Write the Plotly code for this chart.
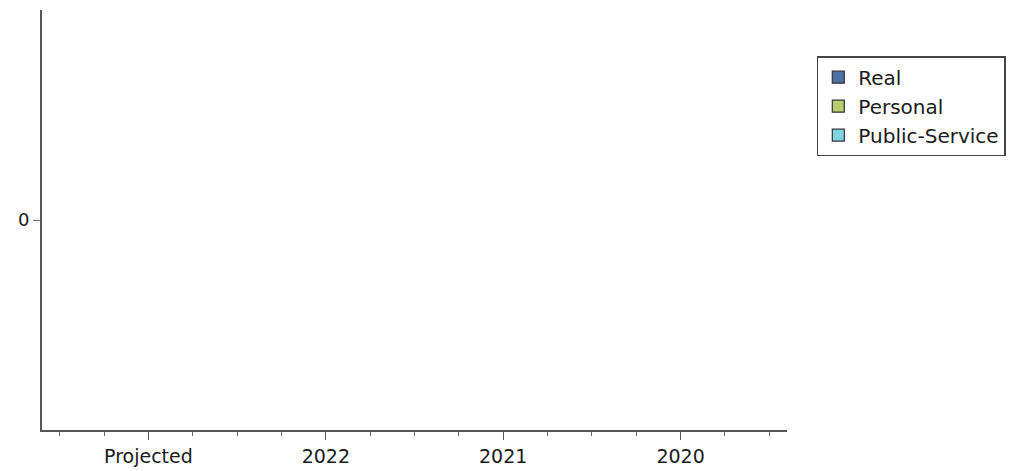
import plotly.graph_objects as go

categories = ["Projected", "2022", "2021", "2020"]
real = [0, 0, 0, 0]
personal = [0, 0, 0, 0]
public_service = [0, 0, 0, 0]
y_ticks = [0]

series = [
    ("Real", real, "#4f6fa8"),
    ("Personal", personal, "#b8cc70"),
    ("Public-Service", public_service, "#80d4e2"),
]

positions = list(range(len(categories)))

fig = go.Figure()
for name, vals, color in series:
    # data bars (zero height, no outline so nothing shows)
    fig.add_trace(go.Bar(
        x=positions, y=vals, name=name, showlegend=False, legendgroup=name,
        marker=dict(color=color, line=dict(width=0)),
    ))
for name, vals, color in series:
    # legend entries with outlined swatches
    fig.add_trace(go.Bar(
        x=[None], y=[None], name=name, legendgroup=name,
        marker=dict(color=color, line=dict(color="#333333", width=1.2)),
    ))

fig.update_layout(
    width=1020, height=471,
    margin=dict(l=34, r=241, t=2, b=49),
    paper_bgcolor="white", plot_bgcolor="white",
    barmode="group",
    font=dict(family="DejaVu Sans, sans-serif", color="#222222"),
    showlegend=True,
    legend=dict(
        x=1.04, y=0.89, xanchor="left", yanchor="top",
        bordercolor="#444444", borderwidth=1.5,
        font=dict(size=20, color="#1a1a1a"),
        tracegroupgap=0,
    ),
    xaxis=dict(
        type="linear", range=[-0.6, 3.6],
        tickvals=positions, ticktext=categories,
        showline=True, linecolor="#555555", linewidth=2,
        ticks="outside", ticklen=8, tickcolor="#555555", tickwidth=1,
        minor=dict(dtick=0.25, tick0=0, ticks="outside", ticklen=4, tickcolor="#666666"),
        showgrid=False, zeroline=False,
        tickfont=dict(size=19, color="#1a1a1a"),
    ),
    yaxis=dict(
        range=[-1, 1], tickvals=y_ticks, ticktext=["0"],
        showline=True, linecolor="#555555", linewidth=2,
        ticks="outside", ticklen=7, tickcolor="#777777",
        showgrid=False, zeroline=False,
        tickfont=dict(size=18, color="#1a1a1a"),
    ),
)

fig.write_html("out.html")
